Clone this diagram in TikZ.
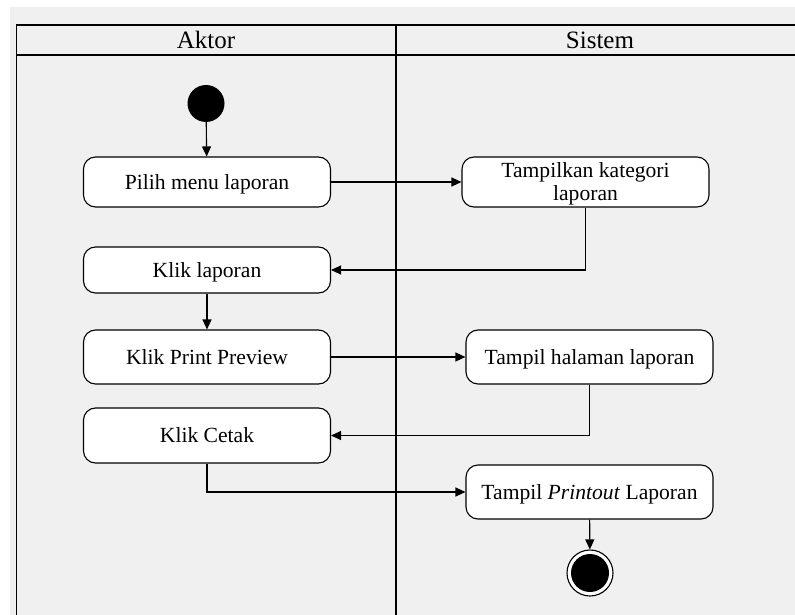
\documentclass[tikz,border=0pt]{standalone}
\usepackage{fontspec}
\setmainfont{Liberation Serif}
\usetikzlibrary{arrows.meta}
\begin{document}
\begin{tikzpicture}[x=1pt,y=-1pt,
  lane/.style={line width=1.5pt, draw=black},
  action/.style={draw=black, line width=1.1pt, fill=white, rounded corners=12pt,
    minimum width=247pt, minimum height=50pt, align=center,
    font=\fontsize{21.6pt}{23pt}\selectfont, inner sep=2pt, text depth=1pt},
  oneline/.style={action, text height=15pt},
  flow/.style={line width=1.1pt, -{Triangle[length=10pt,width=9pt]}},
  title/.style={font=\fontsize{25pt}{28pt}\selectfont}]
\useasboundingbox (0,0) rectangle (795,615);
\clip (0,0) rectangle (795,615);
\fill[white] (0,0) rectangle (795,615);
\fill[black!6] (10,7) rectangle (795,615);

% swimlane frame
\draw[lane] (16.5,640) -- (16.5,25) -- (810,25);
\draw[lane] (16.5,55) -- (810,55);
\draw[lane] (396,25) -- (396,640);
\node[title] (aktor) at (206,40) {Aktor};
\node[title] (sistem) at (600,40) {Sistem};

% actions
\node[circle, fill=black, minimum size=37pt, inner sep=0pt] (start) at (206,103.5) {};
\node[oneline] (pilih) at (207,182) {Pilih menu laporan};
\node[action] (kategori) at (585.5,182) {Tampilkan kategori\\laporan};
\node[oneline, minimum height=46pt] (kliklap) at (207,270) {Klik laporan};
\node[oneline, minimum height=54pt] (preview) at (207,357) {Klik Print Preview};
\node[oneline, minimum height=54pt] (halaman) at (589.5,357) {Tampil halaman laporan};
\node[oneline, minimum height=55pt] (cetak) at (207,435.5) {Klik Cetak};
\node[oneline, minimum height=54pt] (printout) at (589.5,492) {Tampil \textit{Printout} Laporan};
\node[circle, draw=black, line width=1.1pt, fill=white, minimum size=46pt, inner sep=0pt] (end) at (590,573) {};
\node[circle, fill=black, minimum size=38pt, inner sep=0pt] (endin) at (end) {};

% control flow
\draw[flow] (start) -- (pilih);
\draw[flow] (pilih) -- (kategori);
\draw[flow] (kategori.south) |- (kliklap.east);
\draw[flow] (kliklap) -- (preview);
\draw[flow] (preview) -- (halaman);
\draw[flow] (halaman.south) |- (cetak.east);
\draw[flow] (cetak.south) |- (printout.west);
\draw[flow] (printout) -- (end);
\end{tikzpicture}
\end{document}
